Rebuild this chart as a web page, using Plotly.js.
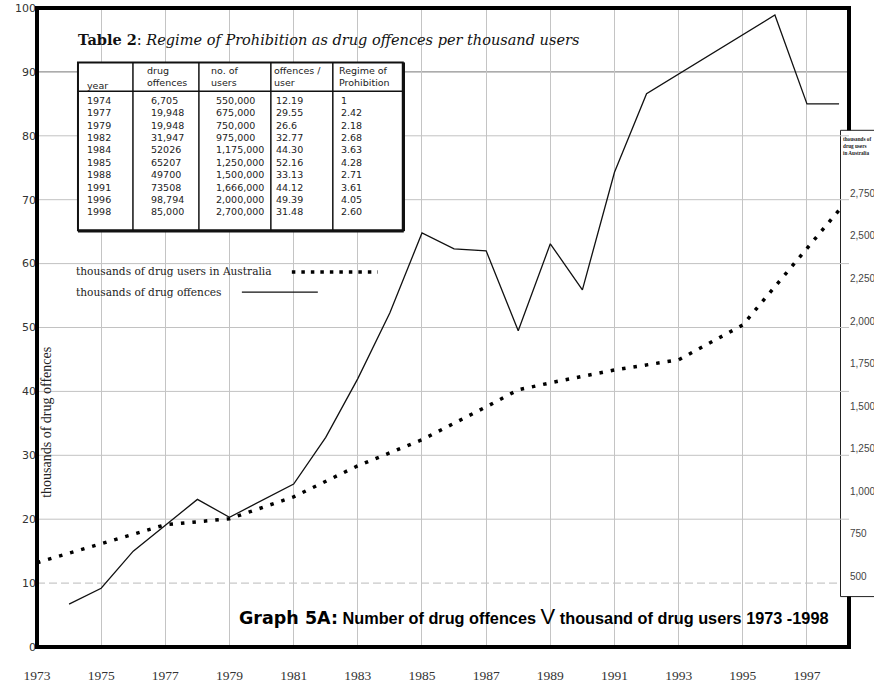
<!DOCTYPE html>
<html>
<head>
<meta charset="utf-8">
<script src="https://cdn.plot.ly/plotly-3.0.1.min.js"></script>
<style>html,body{margin:0;padding:0;background:#fff;}#chart{width:874px;height:688px;}</style>
</head>
<body>
<div id="chart"></div>
<script>
// ---- data ----
const offenceYears  = [1974,1975,1976,1977,1978,1979,1981,1982,1983,1984,1985,1986,1987,1988,1989,1990,1991,1992,1996,1997,1998];
const offenceValues = [6.7,9.2,15.0,19.0,23.1,20.3,25.5,32.8,42.0,52.3,64.8,62.3,62.0,49.5,63.1,55.9,74.3,86.6,98.9,85.0,85.0];
const userYears  = [1973,1977,1979,1981,1983,1985,1987,1988,1989,1991,1993,1995,1998];
const userValues = [581,804,839,968,1150,1303,1496,1596,1637,1713,1772,1977,2651];

const xTickVals = [1973,1975,1977,1979,1981,1983,1985,1987,1989,1991,1993,1995,1997];
const xTickText = ['1973','1975','1977','1979','1981','1983','1985','1987','1989','1991','1993','1995','1997'];
const yTickVals = [0,10,20,30,40,50,60,70,80,90,100];
const y2TickVals = [500,750,1000,1250,1500,1750,2000,2250,2500,2750];

// table 2
const tableYears    = ['1974','1977','1979','1982','1984','1985','1988','1991','1996','1998'];
const tableOffences = ['6,705','19,948','19,948','31,947','52026','65207','49700','73508','98,794','85,000'];
const tableUsers    = ['550,000','675,000','750,000','975,000','1,175,000','1,250,000','1,500,000','1,666,000','2,000,000','2,700,000'];
const tableRatio    = ['12.19','29.55','26.6','32.77','44.30','52.16','33.13','44.12','49.39','31.48'];
const tableRegime   = ['1','2.42','2.18','2.68','3.63','4.28','2.71','3.61','4.05','2.60'];
const tableHeaders  = ['year','drug<br>offences','no. of<br>users','offences /<br>user','Regime of<br>Prohibition'];

// ---- layout geometry (pixels) ----
const L = 37, R = 849.5, T = 7.5, B = 647.5;
const px = x => (x - L) / (R - L);
const py = y => 1 - (y - T) / (B - T);

const traces = [
  {
    x: offenceYears, y: offenceValues, type: 'scatter', mode: 'lines',
    line: {color: '#111', width: 1.3}, yaxis: 'y', hoverinfo: 'skip', showlegend: false
  },
  {
    x: userYears, y: userValues, type: 'scatter', mode: 'lines',
    line: {color: '#000', width: 3.5, dash: '3.5px,8px'}, yaxis: 'y2', hoverinfo: 'skip', showlegend: false
  }
];

const shapes = [];
// right-hand axis box
shapes.push({type:'rect', xref:'paper', yref:'paper', x0:px(841), x1:px(884), y0:py(597), y1:py(130),
  line:{color:'#222', width:1}, fillcolor:'#fff', layer:'below'});
// horizontal grid
[20,30,40,50,60,70,80,90].forEach(v => {
  shapes.push({type:'line', xref:'x', yref:'y', x0:1973, x1:1998.31, y0:v, y1:v,
    line:{color: v === 90 ? '#777' : '#c2c2c2', width: 1}, layer:'below'});
});
shapes.push({type:'line', xref:'x', yref:'y', x0:1973, x1:1998.0, y0:10, y1:10,
  line:{color:'#bbb', width:1, dash:'8px,4px'}, layer:'below'});

// table box
const tL = 78, tR = 403, tT = 62, tB = 230, tH = 91;
shapes.push({type:'rect', xref:'paper', yref:'paper', x0:px(tL), x1:px(tR), y0:py(tB), y1:py(tT),
  line:{color:'#111', width:2}, fillcolor:'#fff', layer:'above'});
shapes.push({type:'line', xref:'paper', yref:'paper', x0:px(tR+1), x1:px(tR+1), y0:py(tB+1), y1:py(tT),
  line:{color:'#111', width:2.5}, layer:'above'});
shapes.push({type:'line', xref:'paper', yref:'paper', x0:px(tL), x1:px(tR+1), y0:py(tB+1), y1:py(tB+1),
  line:{color:'#111', width:2.5}, layer:'above'});
shapes.push({type:'line', xref:'paper', yref:'paper', x0:px(tL), x1:px(tR), y0:py(tH), y1:py(tH),
  line:{color:'#111', width:1.5}, layer:'above'});
[133,199,271,333].forEach(cx => {
  shapes.push({type:'line', xref:'paper', yref:'paper', x0:px(cx), x1:px(cx), y0:py(tB), y1:py(tT),
    line:{color:'#111', width:1.5}, layer:'above'});
});

// frame
const frame = {color:'#000', width:4};
shapes.push({type:'line', xref:'paper', yref:'paper', x0:px(L-2), x1:px(R+2), y0:1, y1:1, line:frame, layer:'above'});
shapes.push({type:'line', xref:'paper', yref:'paper', x0:0, x1:0, y0:py(B+2), y1:py(T-2), line:frame, layer:'above'});
shapes.push({type:'line', xref:'paper', yref:'paper', x0:px(L-2), x1:px(R+2), y0:0, y1:0, line:frame, layer:'above'});
shapes.push({type:'line', xref:'paper', yref:'paper', x0:1, x1:1, y0:py(130), y1:py(T-2), line:frame, layer:'above'});
shapes.push({type:'line', xref:'paper', yref:'paper', x0:1, x1:1, y0:py(B+2), y1:py(597), line:frame, layer:'above'});

// legend samples
shapes.push({type:'line', xref:'paper', yref:'paper', x0:px(292), x1:px(378), y0:py(272), y1:py(272),
  line:{color:'#000', width:3.5, dash:'3.5px,6px'}, layer:'above'});
shapes.push({type:'line', xref:'paper', yref:'paper', x0:px(242), x1:px(318), y0:py(292), y1:py(292),
  line:{color:'#111', width:1.3}, layer:'above'});

const annotations = [];
const ann = (x, y, text, font, extra) => annotations.push(Object.assign({
  xref:'paper', yref:'paper', x:px(x), y:py(y), text:text, showarrow:false,
  xanchor:'left', yanchor:'middle', font:font, borderpad:0
}, extra || {}));

// table title
ann(77, 39, '<b>Table 2</b>: <i>Regime of Prohibition as drug offences per thousand users</i>',
  {family:'DejaVu Serif', size:14.5, color:'#111'});

// table header & cells
const cellFont = {family:'DejaVu Sans', size:9.5, color:'#222'};
const colX = [86, 150, 215, 275, 340];
const headX = [86, 146, 210, 273, 338];
tableHeaders.forEach((h, j) => {
  ann(headX[j], j === 0 ? 85 : 76, h, cellFont, {align:'left'});
});
const cols = [tableYears, tableOffences, tableUsers, tableRatio, tableRegime];
cols.forEach((col, j) => {
  col.forEach((v, i) => ann(colX[j], 100 + i * 12.4, v, cellFont));
});

// legend texts
const legFont = {family:'DejaVu Serif', size:10.6, color:'#222'};
ann(75, 271, 'thousands of drug users in Australia', legFont);
ann(75, 292, 'thousands of drug offences', legFont);

// y title inside plot
ann(47, 422, 'thousands of drug offences', {family:'Liberation Serif', size:14, color:'#222'},
  {textangle:-90, xanchor:'center', yanchor:'middle'});

// right box title
ann(842, 146, '<b>thousands of<br>drug users<br>in Australia</b>', {family:'Liberation Serif', size:5.2, color:'#222'},
  {align:'left'});

// graph title
ann(238, 617,
  '<b>Graph 5A:</b>' +
  '<span style="font-family:Liberation Sans;font-weight:bold;font-size:16.3px"> Number of drug offences </span>' +
  '<span style="font-family:Liberation Sans;font-size:22px">V</span>' +
  '<span style="font-family:Liberation Sans;font-weight:bold;font-size:16.3px"> thousand of drug users 1973 -1998</span>',
  {family:'DejaVu Sans', size:17.5, color:'#000'});

const layout = {
  width: 874, height: 688,
  margin: {l: L, r: 874 - R, t: T, b: 688 - B, pad: 0},
  paper_bgcolor: '#fff', plot_bgcolor: 'rgba(0,0,0,0)',
  showlegend: false,
  xaxis: {
    range: [1973, 1998.31], tickvals: xTickVals, ticktext: xTickText,
    showgrid: true, gridcolor: '#c4c4c4', gridwidth: 1, zeroline: false, showline: false,
    ticks: 'outside', ticklen: 16, tickcolor: 'rgba(0,0,0,0)',
    tickfont: {family: 'Liberation Serif', size: 13.5, color: '#333'}
  },
  yaxis: {
    range: [0, 100], tickvals: yTickVals, showgrid: false, zeroline: false, showline: false,
    ticks: '', tickfont: {family: 'DejaVu Sans', size: 11, color: '#333'}
  },
  yaxis2: {
    overlaying: 'y', side: 'right', range: [86, 3838], tickvals: y2TickVals, tickformat: ',',
    showgrid: false, zeroline: false, showline: false, ticks: '',
    tickfont: {family: 'Liberation Sans', size: 10, color: '#444'}
  },
  shapes: shapes,
  annotations: annotations
};

Plotly.newPlot('chart', traces, layout, {staticPlot: true, displayModeBar: false});
</script>
</body>
</html>
